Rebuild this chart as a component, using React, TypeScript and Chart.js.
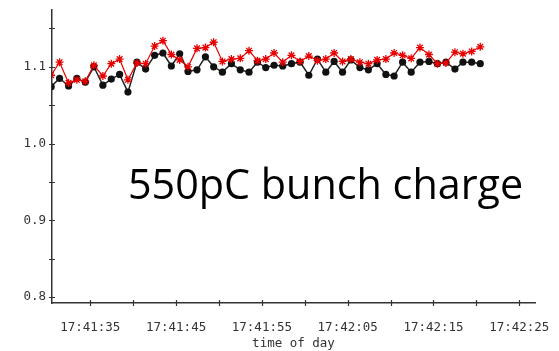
import React, { useEffect, useRef } from "react";
import { Chart, registerables } from "chart.js";

Chart.register(...registerables);

// seconds after 17:41:00 for each sample
const times = [
  30.44, 31.42, 32.47, 33.44, 34.42, 35.42, 36.47, 37.45, 38.42, 39.39,
  40.44, 41.45, 42.5, 43.47, 44.45, 45.42, 46.39, 47.44, 48.42, 49.38,
  50.4, 51.45, 52.48, 53.5, 54.48, 55.45, 56.42, 57.43, 58.45, 59.45,
  60.47, 61.48, 62.45, 63.42, 64.4, 65.37, 66.42, 67.41, 68.43, 69.45,
  70.41, 71.4, 72.4, 73.42, 74.47, 75.46, 76.45, 77.5, 78.43, 79.45, 80.45,
];

const blackSeries = [
  1.074, 1.085, 1.075, 1.085, 1.08, 1.1, 1.076, 1.084, 1.09, 1.067,
  1.106, 1.097, 1.115, 1.118, 1.101, 1.117, 1.094, 1.096, 1.113, 1.1,
  1.093, 1.104, 1.096, 1.093, 1.106, 1.099, 1.102, 1.101, 1.104, 1.106,
  1.089, 1.11, 1.093, 1.107, 1.093, 1.109, 1.099, 1.096, 1.104, 1.09,
  1.088, 1.106, 1.093, 1.106, 1.107, 1.104, 1.106, 1.097, 1.106, 1.106, 1.104,
];

const redSeries = [
  1.089, 1.106, 1.079, 1.083, 1.081, 1.102, 1.088, 1.104, 1.11, 1.083,
  1.105, 1.104, 1.127, 1.134, 1.116, 1.109, 1.1, 1.124, 1.125, 1.132,
  1.107, 1.11, 1.111, 1.121, 1.108, 1.11, 1.118, 1.106, 1.115, 1.107,
  1.114, 1.108, 1.11, 1.118, 1.107, 1.11, 1.106, 1.104, 1.109, 1.11,
  1.118, 1.115, 1.111, 1.125, 1.116, 1.104, 1.105, 1.119, 1.117, 1.12, 1.126,
];

const yTicks = [0.8, 0.85, 0.9, 0.95, 1.0, 1.05, 1.1, 1.15];
const yLabelled = [0.8, 0.9, 1.0, 1.1];
const xTicks = [35, 40, 45, 50, 55, 60, 65, 70, 75, 80, 85];
const xLabelled = [35, 45, 55, 65, 75, 85];

const AXIS_COLOR = "#333";
const MONO = "'DejaVu Sans Mono', monospace";

function fmtTime(s: number) {
  const total = 17 * 3600 + 41 * 60 + Math.round(s);
  const h = Math.floor(total / 3600);
  const m = Math.floor((total % 3600) / 60);
  const sec = total % 60;
  const p = (n: number) => String(n).padStart(2, "0");
  return `${p(h)}:${p(m)}:${p(sec)}`;
}

const crossTicks = {
  id: "crossTicks",
  afterDraw(chart: any) {
    const ctx = chart.ctx;
    const xs = chart.scales.x;
    const ys = chart.scales.y;
    ctx.save();
    ctx.strokeStyle = AXIS_COLOR;
    ctx.lineWidth = 1.2;
    ctx.beginPath();
    const ax = chart.chartArea.left;
    ys.ticks.forEach((t: any) => {
      const py = Math.round(ys.getPixelForValue(t.value)) + 0.5;
      ctx.moveTo(ax - 3, py);
      ctx.lineTo(ax + 3, py);
    });
    const ay = chart.chartArea.bottom;
    xs.ticks.forEach((t: any) => {
      const px = Math.round(xs.getPixelForValue(t.value)) + 0.5;
      ctx.moveTo(px, ay - 3);
      ctx.lineTo(px, ay + 3);
    });
    ctx.stroke();
    ctx.restore();
  },
};

export default function App() {
  const ref = useRef<HTMLCanvasElement>(null);

  useEffect(() => {
    document.body.style.margin = "0";
    const chart = new Chart(ref.current!, {
      type: "line",
      data: {
        datasets: [
          {
            label: "red",
            data: times.map((t, i) => ({ x: t, y: redSeries[i] })),
            borderColor: "#e60000",
            backgroundColor: "#e60000",
            borderWidth: 1.2,
            pointStyle: "star",
            pointRadius: 4,
            pointBorderWidth: 1.3,
            pointBorderColor: "#e60000",
            tension: 0,
            clip: 0,
            order: 0,
          },
          {
            label: "black",
            data: times.map((t, i) => ({ x: t, y: blackSeries[i] })),
            borderColor: "#222",
            backgroundColor: "#111",
            borderWidth: 1.5,
            pointStyle: "circle",
            pointRadius: 3.6,
            pointBorderWidth: 0,
            tension: 0,
            clip: 0,
            order: 1,
          },
        ],
      },
      options: {
        animation: false,
        responsive: false,
        events: [],
        layout: { padding: { top: 10, right: 24, left: 0, bottom: 0 } },
        plugins: { legend: { display: false }, tooltip: { enabled: false } },
        scales: {
          x: {
            type: "linear",
            min: 30.54,
            max: 86.83,
            afterBuildTicks: (s: any) => {
              s.ticks = xTicks.map((v) => ({ value: v }));
            },
            afterFit: (s: any) => {
              s.height = 48;
              s.paddingLeft = 0;
              s.paddingRight = 0;
            },
            grid: { display: false, drawTicks: false },
            border: { display: true, color: AXIS_COLOR, width: 1.5 },
            ticks: {
              autoSkip: false,
              maxRotation: 0,
              padding: 17,
              color: "#333",
              font: { family: MONO, size: 12.5 },
              callback: (v: any) =>
                xLabelled.includes(Number(v)) ? fmtTime(Number(v)) : "",
            },
            title: {
              display: true,
              text: "time of day",
              color: "#333",
              font: { family: MONO, size: 12.5 },
              padding: { top: 0, bottom: 0 },
            },
          },
          y: {
            type: "linear",
            min: 0.7922,
            max: 1.174,
            afterBuildTicks: (s: any) => {
              s.ticks = yTicks.map((v) => ({ value: v }));
            },
            afterFit: (s: any) => {
              s.width = 52;
              s.paddingTop = 0;
              s.paddingBottom = 0;
            },
            grid: { display: false, drawTicks: false },
            border: { display: true, color: AXIS_COLOR, width: 1.5 },
            ticks: {
              padding: 6,
              color: "#333",
              font: { family: MONO, size: 12.5 },
              callback: (v: any) => {
                const n = Number(v);
                return yLabelled.some((l) => Math.abs(l - n) < 1e-6)
                  ? n.toFixed(1)
                  : "";
              },
            },
          },
        },
      },
      plugins: [crossTicks],
    });
    return () => chart.destroy();
  }, []);

  return (
    <div style={{ position: "relative", width: 559, height: 351 }}>
      <canvas ref={ref} width={559} height={351} style={{ display: "block" }} />
      <div
        style={{
          position: "absolute",
          left: 128,
          top: 158,
          fontFamily: "'Open Sans', sans-serif",
          fontSize: 41.3,
          lineHeight: "50px",
          color: "#000",
          whiteSpace: "nowrap",
        }}
      >
        550pC bunch charge
      </div>
    </div>
  );
}
